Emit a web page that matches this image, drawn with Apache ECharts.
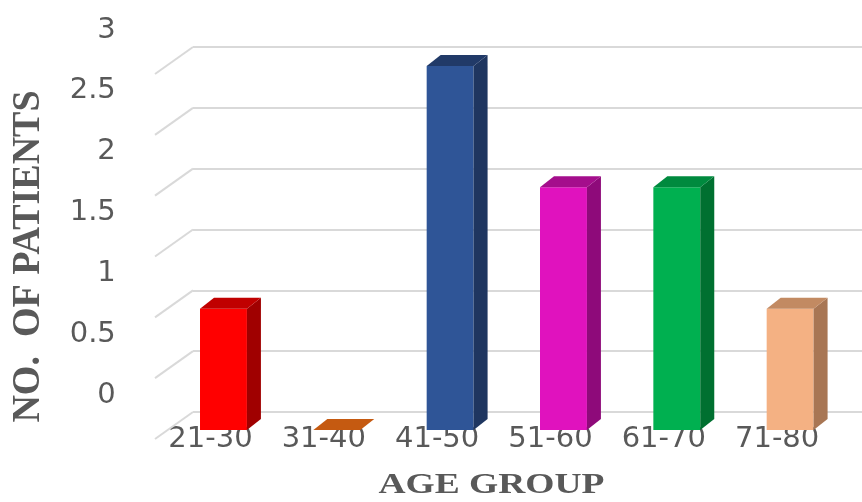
<!DOCTYPE html>
<html>
<head>
<meta charset="utf-8">
<script src="https://cdn.jsdelivr.net/npm/echarts@6/dist/echarts.min.js"></script>
<style>
  html, body { margin: 0; padding: 0; background: #ffffff; }
  #chart { width: 862px; height: 502px; }
</style>
</head>
<body>
<div id="chart"></div>
<script>
// Patients per age group
const categories = ['21-30', '31-40', '41-50', '51-60', '61-70', '71-80'];
const patients = [1, 0, 3, 2, 2, 1];
const yTicks = [0, 0.5, 1, 1.5, 2, 2.5, 3];

// Face colours of the shaded columns: front, right side, top
const frontColors = ['#FF0000', '#ED7D31', '#2F5597', '#E012BE', '#00B050', '#F4B183'];
const sideColors  = ['#A00000', '#A0521C', '#1F3660', '#8E0A7A', '#007030', '#A87654'];
const topColors   = ['#C00000', '#C55A11', '#213A68', '#A40E8C', '#008A3E', '#C28A62'];

const DEPTH_X = 14, DEPTH_Y = -11;      // column depth
const WALL_X = 38, WALL_Y = 27;         // floor depth in front of the back wall

const TEXT = '#595959';

const chart = echarts.init(document.getElementById('chart'), null, { renderer: 'canvas' });

function renderColumn(params, api) {
  const i = api.value(0);
  const v = api.value(1);
  const top = api.coord([i, v]);
  const base = api.coord([i, 0]);
  const w = api.size([1, 0])[0] * 0.414;
  const x0 = top[0] - w / 2, x1 = top[0] + w / 2;
  const yt = top[1], yb = base[1];
  const children = [];
  if (yb - yt > 0.5) {
    children.push({
      type: 'rect',
      shape: { x: x0, y: yt, width: w, height: yb - yt },
      style: { fill: frontColors[i] }
    });
    children.push({
      type: 'polygon',
      shape: { points: [[x1, yt], [x1 + DEPTH_X, yt + DEPTH_Y], [x1 + DEPTH_X, yb + DEPTH_Y], [x1, yb]] },
      style: { fill: sideColors[i] }
    });
  }
  children.push({
    type: 'polygon',
    shape: { points: [[x0, yt], [x1, yt], [x1 + DEPTH_X, yt + DEPTH_Y], [x0 + DEPTH_X, yt + DEPTH_Y]] },
    style: { fill: topColors[i] }
  });
  return { type: 'group', children: children };
}

function renderFloorEdge(params, api) {
  const p = api.coord([0, api.value(1)]);
  return {
    type: 'line',
    shape: { x1: p[0] - WALL_X, y1: p[1] + WALL_Y, x2: p[0], y2: p[1] },
    style: { stroke: '#d9d9d9', lineWidth: 2 }
  };
}

const option = {
  backgroundColor: '#ffffff',
  animation: false,
  grid: [
    // front plane of the columns
    { left: 166.8, right: 15.2, top: 66, bottom: 72 },
    // back wall
    { left: 193, right: 0, top: 47, bottom: 90 },
    // axis labels
    { left: 153.8, right: 28.2, top: 30, bottom: 107 }
  ],
  xAxis: [
    { gridIndex: 0, type: 'category', data: categories, show: false },
    { gridIndex: 1, type: 'value', min: 0, max: 1, show: false },
    {
      gridIndex: 2, type: 'category', data: categories,
      axisLine: { show: false }, axisTick: { show: false },
      axisLabel: { margin: 30, color: TEXT, fontSize: 29, fontFamily: 'DejaVu Sans' }
    }
  ],
  yAxis: [
    { gridIndex: 0, type: 'value', min: 0, max: 3, interval: 0.5, show: false },
    {
      gridIndex: 1, type: 'value', min: 0, max: 3, interval: 0.5,
      axisLine: { show: false }, axisTick: { show: false }, axisLabel: { show: false },
      splitLine: { show: true, lineStyle: { color: '#d9d9d9', width: 2 } }
    },
    {
      gridIndex: 2, type: 'value', min: 0, max: 3, interval: 0.5,
      axisLine: { show: false }, axisTick: { show: false }, splitLine: { show: false },
      axisLabel: { margin: 38, color: TEXT, fontSize: 29, fontFamily: 'DejaVu Sans' }
    }
  ],
  series: [
    {
      type: 'custom',
      xAxisIndex: 1, yAxisIndex: 1,
      renderItem: renderFloorEdge,
      data: yTicks.map(v => [0, v]),
      z: 1,
      silent: true
    },
    {
      type: 'custom',
      xAxisIndex: 0, yAxisIndex: 0,
      renderItem: renderColumn,
      encode: { x: 0, y: 1 },
      data: patients.map((v, i) => [i, v]),
      z: 5
    }
  ],
  graphic: [
    {
      type: 'text',
      x: 28.5, y: 256.5,
      rotation: Math.PI / 2,
      scaleY: 1.05,
      style: {
        text: 'NO.  OF PATIENTS',
        x: 0, y: 0,
        align: 'center', verticalAlign: 'middle',
        font: 'bold 38px "Liberation Serif", "Times New Roman", serif',
        fill: TEXT
      }
    },
    {
      type: 'text',
      x: 491.5, y: 485,
      scaleX: 1.25,
      style: {
        text: 'AGE GROUP',
        x: 0, y: 0,
        align: 'center', verticalAlign: 'middle',
        font: 'bold 30px "Liberation Serif", "Times New Roman", serif',
        fill: TEXT
      }
    }
  ]
};

chart.setOption(option);
</script>
</body>
</html>
